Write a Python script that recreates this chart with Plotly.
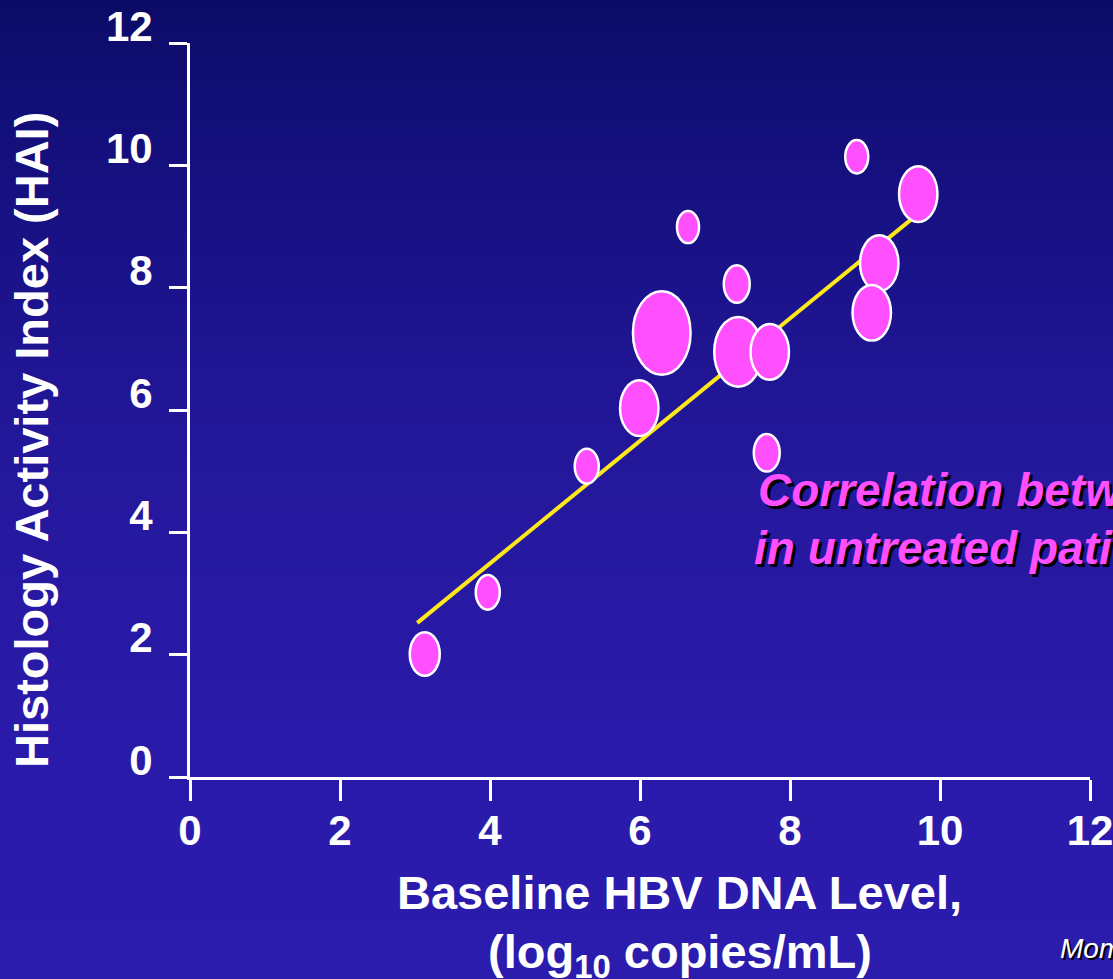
import plotly.graph_objects as go

# Baseline HBV DNA (log10 copies/mL) vs histology activity index, one bubble per group
hbv_dna = [3.13, 3.97, 5.29, 5.99, 6.29, 6.64, 7.29, 7.31, 7.73, 7.69, 8.89, 9.71, 9.19, 9.09]
hai = [2.01, 3.02, 5.08, 6.03, 7.26, 8.99, 8.06, 6.95, 6.95, 5.30, 10.14, 9.53, 8.40, 7.59]
bubble_size = [1.25, 1.0, 1.0, 1.6, 2.4, 0.92, 1.08, 2.0, 1.6, 1.08, 0.96, 1.6, 1.6, 1.6]

# Regression line end points
fit_x = [3.03, 9.65]
fit_y = [2.52, 9.15]

x_ticks = [0, 2, 4, 6, 8, 10, 12]
y_ticks = [0, 2, 4, 6, 8, 10, 12]

W, H = 1113, 979
M_L, M_R, M_T, M_B = 190, 23, 43, 202
PW, PH = W - M_L - M_R, H - M_T - M_B

PINK = "#FF4FFF"
YELLOW = "#FFE81A"
FONT = "Liberation Sans, Arial, sans-serif"


def px_to_paper_x(px):
    return (px - M_L) / PW


def px_to_paper_y(py):
    return (H - M_B - py) / PH


# Vertical background gradient (navy at the top, violet-blue at the bottom)
stops = [(0, (12, 11, 102)), (100, (17, 14, 118)), (250, (25, 18, 135)),
         (400, (33, 22, 150)), (550, (38, 25, 160)), (750, (42, 26, 170)),
         (979, (44, 28, 174))]


def grad_color(py):
    for (y0, c0), (y1, c1) in zip(stops[:-1], stops[1:]):
        if y0 <= py <= y1:
            t = (py - y0) / (y1 - y0)
            return "rgb(%d,%d,%d)" % tuple(round(a + (b - a) * t) for a, b in zip(c0, c1))
    return "rgb(%d,%d,%d)" % stops[-1][1]


shapes = []
band = 8
for top in range(0, H, band):
    shapes.append(dict(
        type="rect", xref="paper", yref="paper", layer="below",
        x0=px_to_paper_x(-2), x1=px_to_paper_x(W + 2),
        y0=px_to_paper_y(min(top + band + 1, H + 2)), y1=px_to_paper_y(top - 1 if top else -2),
        fillcolor=grad_color(top + band / 2), line=dict(width=0),
    ))

# Elliptical bubbles anchored at their data positions
BASE_W = 24
ASPECT = 1.45
for xv, yv, s in zip(hbv_dna, hai, bubble_size):
    w = BASE_W * s
    h = w * ASPECT
    shapes.append(dict(
        type="circle", xref="x", yref="y", layer="above",
        xsizemode="pixel", ysizemode="pixel", xanchor=xv, yanchor=yv,
        x0=-w / 2, x1=w / 2, y0=-h / 2, y1=h / 2,
        fillcolor=PINK, line=dict(color="white", width=2.5),
    ))

fig = go.Figure()
fig.add_trace(go.Scatter(
    x=fit_x, y=fit_y, mode="lines",
    line=dict(color=YELLOW, width=4), hoverinfo="skip", showlegend=False,
))

tick_font = dict(family=FONT, size=42, color="white", weight="bold")
title_font = dict(family=FONT, size=47, color="white", weight="bold")
note_font = dict(family=FONT, size=46, color=PINK, weight="bold", style="italic",
                 shadow="3px 3px 0px #000000")

annotations = [
    dict(text="Histology Activity Index (HAI)", textangle=-90,
         xref="paper", yref="paper", x=px_to_paper_x(31), y=px_to_paper_y(440),
         xanchor="center", yanchor="middle", showarrow=False, font=title_font),
    dict(text="Baseline HBV DNA Level,",
         xref="paper", yref="paper", x=px_to_paper_x(679), y=px_to_paper_y(893),
         xanchor="center", yanchor="middle", showarrow=False, font=title_font),
    dict(text="(log<sub>10</sub> copies/mL)",
         xref="paper", yref="paper", x=px_to_paper_x(680), y=px_to_paper_y(955),
         xanchor="center", yanchor="middle", showarrow=False, font=title_font),
    dict(text="Correlation between HBV DNA and HAI",
         xref="paper", yref="paper", x=px_to_paper_x(756), y=px_to_paper_y(490),
         xanchor="left", yanchor="middle", showarrow=False, font=note_font),
    dict(text="in untreated patients",
         xref="paper", yref="paper", x=px_to_paper_x(752), y=px_to_paper_y(548),
         xanchor="left", yanchor="middle", showarrow=False, font=note_font),
    dict(text="Mommeja-Marin H, et al. Hepatology. 2003",
         xref="paper", yref="paper", x=px_to_paper_x(1058), y=px_to_paper_y(949),
         xanchor="left", yanchor="middle", showarrow=False,
         font=dict(family=FONT, size=28, color="white", style="italic",
                   shadow="2px 2px 0px #000000")),
]

fig.update_layout(
    width=W, height=H,
    margin=dict(l=M_L, r=M_R, t=M_T, b=M_B, autoexpand=False),
    paper_bgcolor=grad_color(500), plot_bgcolor="rgba(0,0,0,0)",
    showlegend=False, shapes=shapes, annotations=annotations,
    xaxis=dict(range=[0, 12], tickvals=x_ticks, ticktext=[str(v) for v in x_ticks],
               showgrid=False, zeroline=False, showline=True, linecolor="white", linewidth=3,
               ticks="outside", ticklen=21, tickwidth=3, tickcolor="white",
               tickfont=tick_font, ticklabelstandoff=-6, ticklabeloverflow="allow",
               fixedrange=True),
    yaxis=dict(range=[0, 12], tickvals=y_ticks, ticktext=[str(v) for v in y_ticks],
               showgrid=False, zeroline=False, showline=True, linecolor="white", linewidth=3,
               ticks="outside", ticklen=18, tickwidth=3, tickcolor="white",
               tickfont=tick_font, ticklabelshift=-17, ticklabelstandoff=8,
               ticklabeloverflow="allow", fixedrange=True),
)

fig.write_html("out.html")
